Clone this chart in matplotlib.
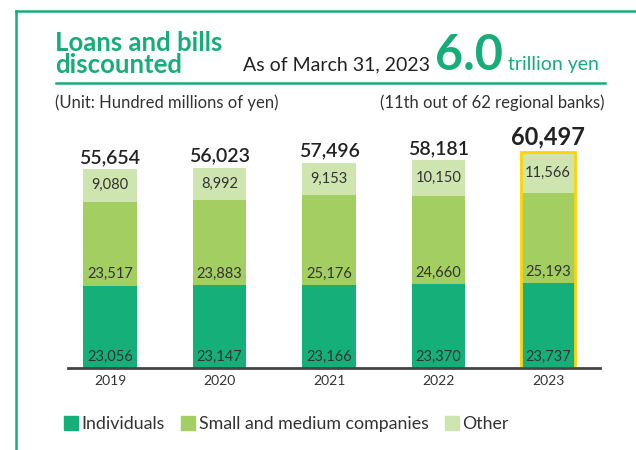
import matplotlib
matplotlib.use("Agg")
import matplotlib.pyplot as plt
from matplotlib.lines import Line2D
from matplotlib.patches import Patch

years = ["2019", "2020", "2021", "2022", "2023"]
individuals = [23056, 23147, 23166, 23370, 23737]
sme = [23517, 23883, 25176, 24660, 25193]
other = [9080, 8992, 9153, 10150, 11566]
totals = [55654, 56023, 57496, 58181, 60497]

GREEN = "#17AD78"
C_IND = "#15B07A"
C_SME = "#A3CE62"
C_OTH = "#CFE5B0"
TEXT = "#333333"

plt.rcParams["font.family"] = ["Lato", "DejaVu Sans"]

W, H = 636, 450
fig = plt.figure(figsize=(W / 100, H / 100), dpi=100)


def fx(px):
    return px / W


def fy(py):
    return 1 - py / H


# frame lines (top and left)
fig.add_artist(Line2D([fx(16), 1], [fy(11), fy(11)], color=GREEN, lw=1.8))
fig.add_artist(Line2D([fx(16), fx(16)], [fy(11), 0], color=GREEN, lw=1.8))
# header underline
fig.add_artist(Line2D([fx(56), fx(605)], [fy(83), fy(83)], color=GREEN, lw=1.8))

fig.text(fx(55), fy(73), "Loans and bills\ndiscounted", color=GREEN, fontsize=18.5,
         fontweight="bold", ha="left", va="baseline", linespacing=0.92)
fig.text(fx(243), fy(70), "As of March 31, 2023", color="#222222", fontsize=14,
         ha="left", va="baseline")
fig.text(fx(435), fy(70), "6.0", color=GREEN, fontsize=35, fontweight="bold",
         ha="left", va="baseline")
fig.text(fx(508), fy(70), "trillion yen", color=GREEN, fontsize=14,
         ha="left", va="baseline")
fig.text(fx(55), fy(108), "(Unit: Hundred millions of yen)", color=TEXT, fontsize=12,
         ha="left", va="baseline")
fig.text(fx(605), fy(108), "(11th out of 62 regional banks)", color=TEXT, fontsize=12,
         ha="right", va="baseline")

# chart area
ax = fig.add_axes([fx(68), fy(368), fx(600) - fx(68), (368 - 120) / H])
x = list(range(len(years)))
width = 0.49
ax.bar(x, individuals, width, color=C_IND, zorder=2)
ax.bar(x, sme, width, bottom=individuals, color=C_SME, zorder=2)
base2 = [a + b for a, b in zip(individuals, sme)]
ax.bar(x, other, width, bottom=base2, color=C_OTH, zorder=2)

# highlight latest year
last = len(years) - 1
ax.bar(x[last], totals[last], width, fill=False, edgecolor="#FFD400", linewidth=2, zorder=3)

for i in x:
    ax.text(i, 1200, f"{individuals[i]:,}", ha="center", va="bottom", fontsize=10.5, color=TEXT, zorder=4)
    ax.text(i, individuals[i] + 1300, f"{sme[i]:,}", ha="center", va="bottom", fontsize=10.5, color=TEXT, zorder=4)
    ax.text(i, base2[i] + other[i] / 2, f"{other[i]:,}", ha="center", va="center", fontsize=10.5, color=TEXT, zorder=4)
    if i == last:
        ax.text(i, totals[i] + 900, f"{totals[i]:,}", ha="center", va="bottom", fontsize=17,
                fontweight="bold", color="#222222")
    else:
        ax.text(i, totals[i] + 900, f"{totals[i]:,}", ha="center", va="bottom", fontsize=14,
                fontweight="semibold", color="#222222")

ax.set_xlim(-0.384, 4.475)
ax.set_ylim(0, 69400)
ax.set_xticks(x)
ax.set_xticklabels(years, fontsize=10, color=TEXT)
ax.tick_params(axis="x", length=0, pad=5)
ax.set_yticks([])
for side in ["top", "right", "left"]:
    ax.spines[side].set_visible(False)
ax.spines["bottom"].set_color("#444444")
ax.spines["bottom"].set_linewidth(2)
ax.spines["bottom"].set_zorder(5)

handles = [Patch(color=C_IND), Patch(color=C_SME), Patch(color=C_OTH)]
fig.legend(handles, ["Individuals", "Small and medium companies", "Other"],
           loc="center left", bbox_to_anchor=(fx(48), fy(424)), ncol=3, frameon=False,
           fontsize=12.8, handlelength=0.8, handleheight=0.8, handletextpad=0.2,
           columnspacing=0.9, labelcolor=TEXT)

fig.savefig("out.png", dpi=100)
